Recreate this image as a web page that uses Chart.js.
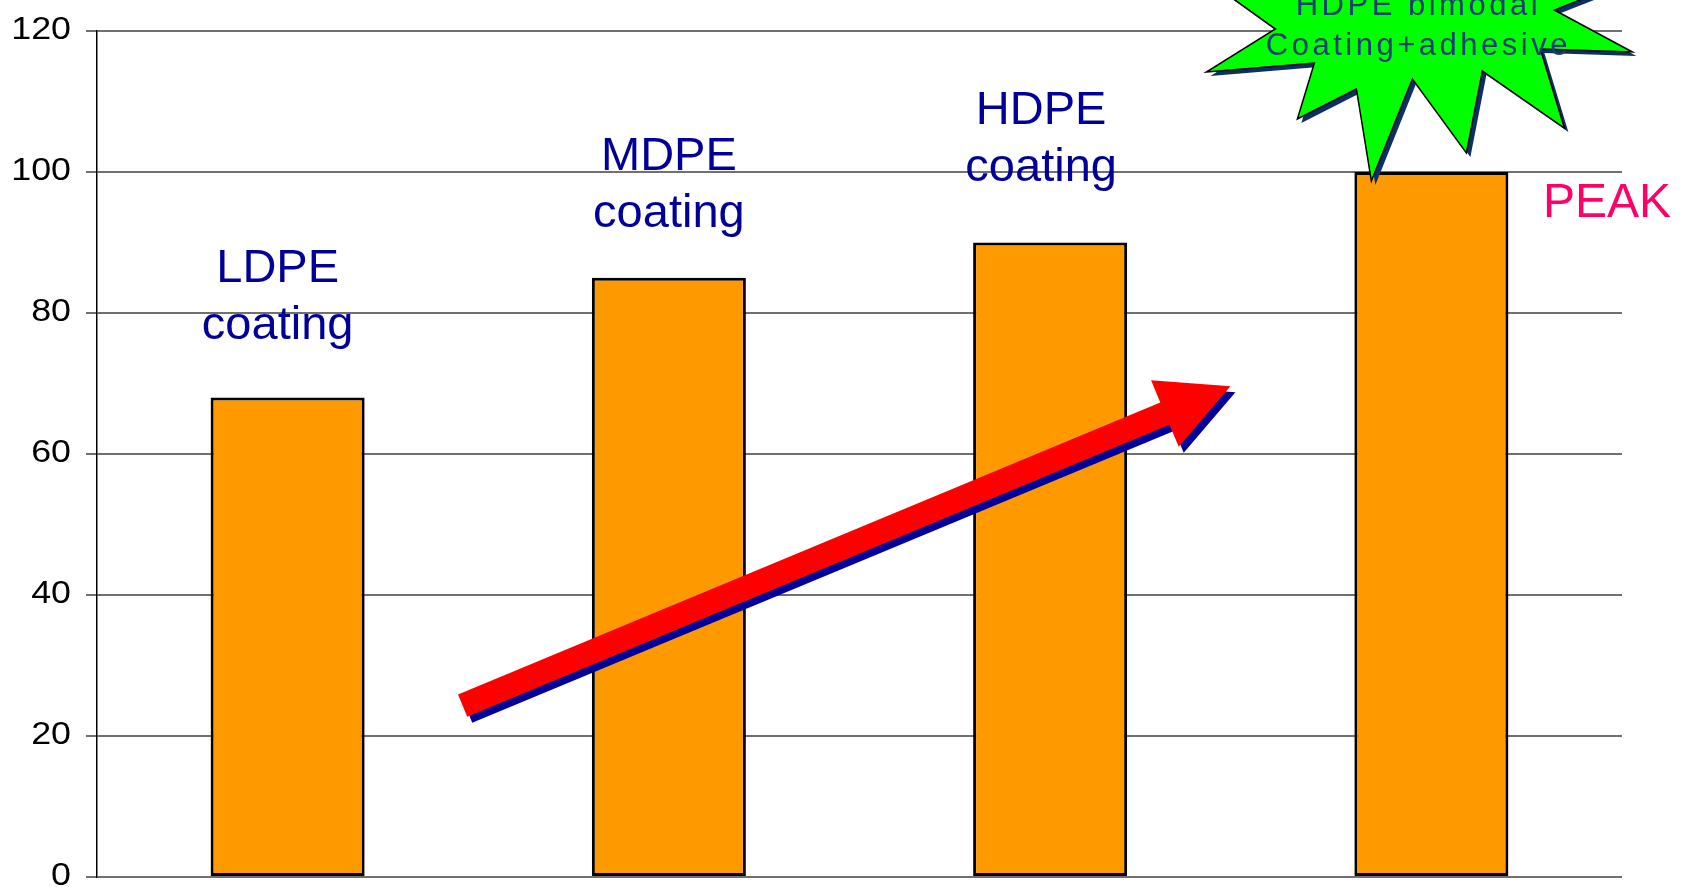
<!DOCTYPE html>
<html lang="en">
<head>
  <meta charset="UTF-8">
  <title>Coating performance</title>
  <script src="https://cdn.jsdelivr.net/npm/chart.js"></script>
  <style>
    html, body { margin: 0; padding: 0; background: #fff; overflow: hidden; }
    .wrap { width: 1683px; height: 887px; }
  </style>
</head>
<body>
  <div class="wrap">
    <canvas id="barChart" width="1683" height="887"></canvas>
  </div>

  <script>
    // chart values
    const categories = ['LDPE coating', 'MDPE coating', 'HDPE coating', 'HDPE bimodal Coating+adhesive'];
    const values = [68, 85, 90, 100];
    const barLabels = [['LDPE', 'coating'], ['MDPE', 'coating'], ['HDPE', 'coating']];
    const starLabel = ['HDPE bimodal', 'Coating+adhesive'];
    const peakLabel = 'PEAK';
    const yTicks = [0, 20, 40, 60, 80, 100, 120];

    const FONT = '"Liberation Sans", Arial, sans-serif';

    // draws the y labels (they look stretched sideways in the original)
    const tickLabels = {
      id: 'tickLabels',
      afterDraw(chart) {
        const ctx = chart.ctx;
        const y = chart.scales.y;
        ctx.save();
        ctx.fillStyle = '#000';
        ctx.font = '32px ' + FONT;
        ctx.textAlign = 'right';
        ctx.textBaseline = 'middle';
        yTicks.forEach(function (v) {
          ctx.save();
          ctx.translate(71, y.getPixelForValue(v) - 1);
          ctx.scale(1.12, 1);
          ctx.fillText(String(v), 0, 0);
          ctx.restore();
        });
        ctx.restore();
      }
    };

    // labels over the bars, the red arrow, the green star and PEAK
    const decorations = {
      id: 'decorations',
      afterDatasetsDraw(chart) {
        const ctx = chart.ctx;
        const x = chart.scales.x;
        const y = chart.scales.y;

        // bar captions
        const dx = [-10, 0, -9];
        const dy = [-59, -51, -62];
        ctx.save();
        ctx.fillStyle = '#000099';
        ctx.font = '47px ' + FONT;
        ctx.textAlign = 'center';
        ctx.textBaseline = 'alphabetic';
        barLabels.forEach(function (lines, i) {
          const cx = x.getPixelForValue(i) + dx[i];
          const base = y.getPixelForValue(values[i]) + dy[i];
          ctx.fillText(lines[0], cx, base - 57);
          ctx.fillText(lines[1], cx, base);
        });
        ctx.restore();

        // arrow, tail and tip given in chart units
        const tail = { x: x.getPixelForValue(0.459), y: y.getPixelForValue(24.3) };
        const tip = { x: x.getPixelForValue(2.473), y: y.getPixelForValue(69.6) };
        drawArrow(ctx, tail, tip, 5, 6, '#000099');
        drawArrow(ctx, tail, tip, 0, 0, '#ff0000');

        // starburst sitting on the last bar
        const sx = x.getPixelForValue(3);
        const sy = y.getPixelForValue(values[3]);
        const star = [
          [-245, -207], [-156, -143], [-225, -100], [-117, -109], [-134, -53],
          [-75, -83], [-60, 9], [-19, -93], [35, -19], [51, -101], [133, -44],
          [109, -123], [201, -120], [123, -162], [225, -202], [60, -230],
          [-30, -280], [-110, -220]
        ];
        ctx.save();
        ctx.beginPath();
        star.forEach(function (p, i) {
          const px = sx + p[0] + 4, py = sy + p[1] + 4;
          if (i === 0) ctx.moveTo(px, py); else ctx.lineTo(px, py);
        });
        ctx.closePath();
        ctx.fillStyle = '#0d2f63';
        ctx.fill();
        ctx.beginPath();
        star.forEach(function (p, i) {
          const px = sx + p[0], py = sy + p[1];
          if (i === 0) ctx.moveTo(px, py); else ctx.lineTo(px, py);
        });
        ctx.closePath();
        ctx.fillStyle = '#00ff00';
        ctx.fill();
        ctx.lineWidth = 1.5;
        ctx.strokeStyle = '#000';
        ctx.stroke();

        ctx.fillStyle = '#1c3f73';
        ctx.font = '31px ' + FONT;
        ctx.letterSpacing = '3.5px';
        ctx.textAlign = 'center';
        ctx.fillText(starLabel[0], sx - 13, sy - 157);
        ctx.fillText(starLabel[1], sx - 13, sy - 117);
        ctx.restore();

        // PEAK
        ctx.save();
        ctx.fillStyle = '#ff0066';
        ctx.font = '48px ' + FONT;
        ctx.textAlign = 'left';
        ctx.fillText(peakLabel, chart.chartArea.right - 79, sy + 45);
        ctx.restore();
      }
    };

    function drawArrow(ctx, a, b, ox, oy, color) {
      const shaft = 24, headLen = 71, headW = 72;
      const len = Math.hypot(b.x - a.x, b.y - a.y);
      const ux = (b.x - a.x) / len, uy = (b.y - a.y) / len;
      const nx = -uy, ny = ux;
      const bx = b.x - ux * headLen, by = b.y - uy * headLen;
      const pts = [
        [a.x + nx * shaft / 2, a.y + ny * shaft / 2],
        [bx + nx * shaft / 2, by + ny * shaft / 2],
        [bx + nx * headW / 2, by + ny * headW / 2],
        [b.x, b.y],
        [bx - nx * headW / 2, by - ny * headW / 2],
        [bx - nx * shaft / 2, by - ny * shaft / 2],
        [a.x - nx * shaft / 2, a.y - ny * shaft / 2]
      ];
      ctx.save();
      ctx.beginPath();
      pts.forEach(function (p, i) {
        if (i === 0) ctx.moveTo(p[0] + ox, p[1] + oy); else ctx.lineTo(p[0] + ox, p[1] + oy);
      });
      ctx.closePath();
      ctx.fillStyle = color;
      ctx.fill();
      ctx.restore();
    }

    const ctx = document.getElementById('barChart').getContext('2d');
    const barChart = new Chart(ctx, {
      type: 'bar',
      data: {
        labels: categories,
        datasets: [{
          data: values,
          backgroundColor: '#ff9900',
          borderColor: '#000',
          borderWidth: 3,
          borderSkipped: false,
          barPercentage: 0.404,
          categoryPercentage: 1
        }]
      },
      options: {
        responsive: false,
        animation: false,
        layout: { padding: { left: 0, right: 61, top: 31, bottom: 10 } },
        plugins: {
          legend: { display: false },
          tooltip: { enabled: false }
        },
        scales: {
          x: { display: false },
          y: {
            min: 0,
            max: 120,
            // real labels are painted by the tickLabels plugin
            ticks: { stepSize: 20, color: 'rgba(0,0,0,0)', font: { size: 8 } },
            grid: { color: '#707070', lineWidth: 2, tickLength: 11 },
            border: { color: '#000', width: 1.5 },
            afterFit(scale) { scale.width = 97; }
          }
        }
      },
      plugins: [tickLabels, decorations]
    });
  </script>
</body>
</html>
